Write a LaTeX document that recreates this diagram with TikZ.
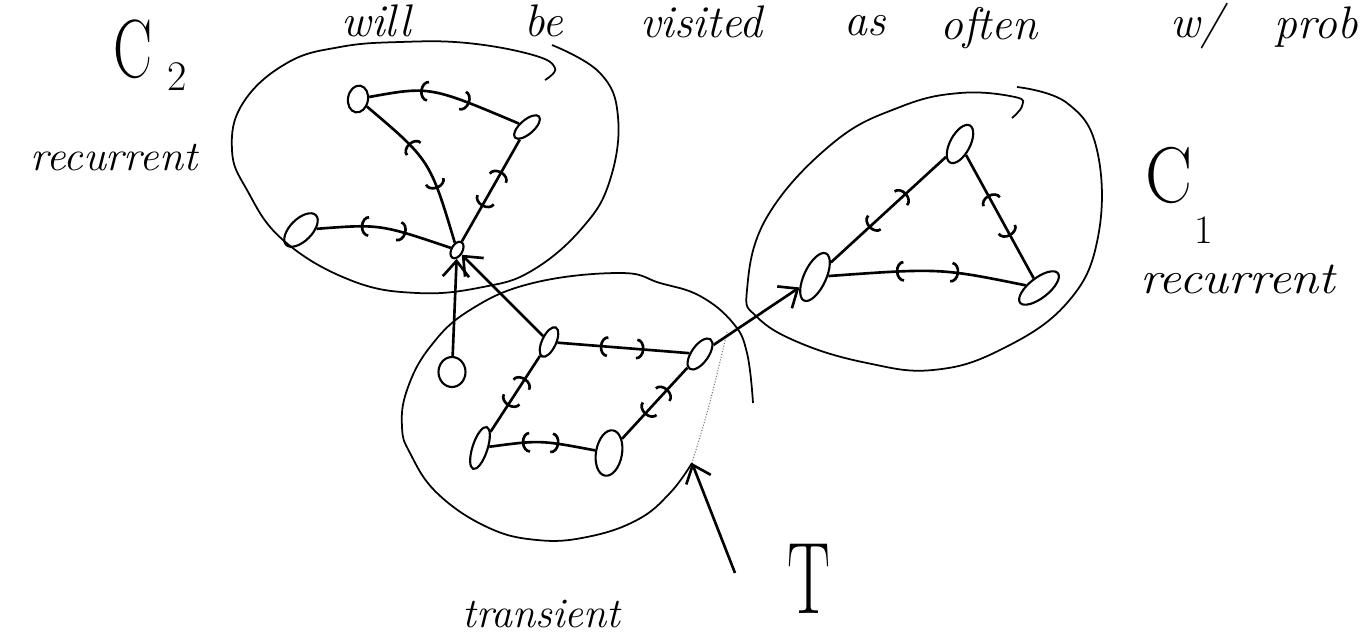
\documentclass[tikz,border=0pt]{standalone}
\usepackage{fontspec}
\usetikzlibrary{shapes.geometric,arrows.meta,decorations.markings}
\newcommand\hw[2]{\resizebox{#1}{\height}{#2}}
\begin{document}
\begin{tikzpicture}[x=0.02cm,y=-0.02cm,
  >={Arc Barb[length=4.5pt,width=12pt]},
  st/.style={ellipse,draw,line width=1.2pt,inner sep=0pt},
  edge/.style={line width=1.5pt},
  both/.style={postaction={decorate},decoration={markings,
      mark=at position 0.38 with {\arrow{<}},
      mark=at position 0.66 with {\arrow{>}}}},
  big/.style={line width=1.5pt,-{Straight Barb[length=9pt,width=15pt]}},
  blob/.style={line width=1pt},
  lbl/.style={inner sep=0pt,anchor=base west},
  word/.style={lbl,font=\fontsize{26}{30}\selectfont\itshape},
]
\fill[white] (0,0) rectangle (1363,643);
\useasboundingbox (0,0) rectangle (1363,643);

% heading line
\node[word] (w1) at (341,36) {will};
\node[word] (w2) at (524,36) {be};
\node[word] (w3) at (640,37) {visited};
\node[word] (w4) at (844,35) {as};
\node[word] (w5) at (940,39) {often};
\node[word] (w6) at (1170,37) {w/};
\node[word,anchor=base east] (w7) at (1358,38) {prob};

% class labels
\node[lbl,font=\fontsize{47}{50}\selectfont] (c2) at (113,77) {\hw{0.78cm}{C}};
\node[lbl,font=\fontsize{24}{26}\selectfont] (c2s) at (167,90) {2};
\node[lbl,font=\fontsize{24}{28}\selectfont\itshape] (r2) at (30,170) {\hw{3.34cm}{recurrent}};
\node[lbl,font=\fontsize{45}{50}\selectfont] (c1) at (1145,202) {\hw{0.94cm}{C}};
\node[lbl,font=\fontsize{23}{26}\selectfont] (c1s) at (1194,243) {1};
\node[lbl,font=\fontsize{26}{30}\selectfont\itshape] (r1) at (1140,293) {\hw{3.9cm}{recurrent}};
\node[lbl,font=\fontsize{24}{28}\selectfont\itshape] (tr) at (462,627) {\hw{3.16cm}{transient}};
\node[lbl,font=\fontsize{58}{60}\selectfont] (tT) at (787,613) {\hw{0.86cm}{T}};

% class boundaries
\draw[blob] plot[smooth,tension=0.7] coordinates {
  (552,45) (600,73) (618,117) (610,180) (583,227) (533,270) (483,287)
  (417,293) (350,280) (283,240) (247,190) (232,150) (243,103) (287,63)
  (340,47) (400,42) (467,43) (533,55) (555,68) (545,80)};
\draw[blob] plot[smooth,tension=0.7] coordinates {
  (1017,87) (1067,103) (1097,150) (1098,237) (1067,303) (1000,350)
  (933,370) (867,363) (800,343) (757,317) (747,290) (767,217) (833,143)
  (900,107) (960,93) (1015,97) (1022,106) (1012,118)};
\draw[blob] plot[smooth,tension=0.7] coordinates {
  (692,463) (670,493) (637,520) (587,537) (537,540) (487,527) (437,493)
  (410,453) (402,427) (407,390) (430,347) (470,310) (533,283) (620,273)
  (660,283) (700,296) (733,323) (747,353) (753,403)};
\draw[line width=0.6pt,black!55,densely dotted] plot[smooth] coordinates {
  (727,332) (718,370) (707,413) (692,463)};

% states of C2
\node[st,minimum width=0.54cm,minimum height=0.4cm,rotate=80] (A) at (358,99) {};
\node[st,minimum width=0.64cm,minimum height=0.28cm,rotate=41] (B) at (527,127) {};
\node[st,minimum width=0.84cm,minimum height=0.44cm,rotate=45] (Cn) at (301,230) {};
\node[st,minimum width=0.36cm,minimum height=0.22cm,rotate=60] (D) at (457,250) {};

% transient states
\node[st,minimum width=0.54cm,minimum height=0.6cm] (E) at (452,372) {};
\node[st,minimum width=0.64cm,minimum height=0.28cm,rotate=65] (F) at (549,342) {};
\node[st,minimum width=0.72cm,minimum height=0.34cm,rotate=55] (G) at (700,354) {};
\node[st,minimum width=0.88cm,minimum height=0.3cm,rotate=72] (H) at (480,448) {};
\node[st,minimum width=0.92cm,minimum height=0.52cm,rotate=80] (I) at (609,453) {};

% states of C1
\node[st,minimum width=1.04cm,minimum height=0.44cm,rotate=65] (J) at (815,277) {};
\node[st,minimum width=0.84cm,minimum height=0.4cm,rotate=62] (K) at (960,144) {};
\node[st,minimum width=0.96cm,minimum height=0.4cm,rotate=38] (L) at (1039,288) {};

% transitions inside C2
\draw[edge,both] (A) .. controls (430,86) .. (B);
\draw[edge,both] (A) .. controls (430,160) .. (D);
\draw[edge,both] (B) -- (D);
\draw[edge,both] (Cn) .. controls (380,224) .. (D);

% transitions inside T
\draw[edge,both] (F) -- (G);
\draw[edge,both] (F) -- (H);
\draw[edge,both] (H) .. controls (540,440) .. (I);
\draw[edge,both] (G) -- (I);

% transitions inside C1
\draw[edge,both] (J) -- (K);
\draw[edge,both] (K) -- (L);
\draw[edge,both] (J) .. controls (940,268) .. (L);

% one-way transitions out of T
\draw[big] (E) -- (D);
\draw[big] (F) -- (D);
\draw[big] (G) -- (J);

% pointer to the transient class
\coordinate (tTail) at (735,573);
\coordinate (tHead) at (692,463);
\draw[big] (tTail) -- (tHead);
\end{tikzpicture}
\end{document}
